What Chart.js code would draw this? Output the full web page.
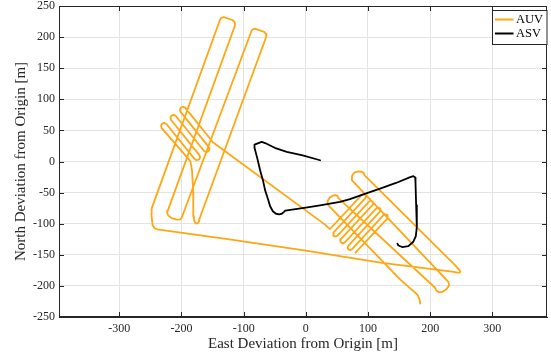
<!DOCTYPE html>
<html><head><meta charset="utf-8">
<script src="https://cdn.jsdelivr.net/npm/chart.js@4/dist/chart.umd.min.js"></script>
<style>html,body{margin:0;padding:0;background:#fff;overflow:hidden}</style>
</head><body>
<canvas id="c" width="551" height="359" style="display:block;width:551px;height:359px"></canvas>
<script>
const seriesNames = ['AUV', 'ASV'];
const auvEast = [184,183,180,175,168,152,36,35,38.5,44,48.5,51.5,52.5,208,209.7,214,220,226,230.5,229.4,74,74.5,78,84.6,90,93.5,94.3,240,245.5,248.5,247.5,244,238,120,0,-120,-239,-243.5,-246.5,-248.5,-248,-138,-136,-132,-118,-114.5,-113.8,-222,-223,-221,-216,-208,-202,-199.5,-87.5,-86,-82,-67,-64,-63.5,-171,-171.5,-174,-177.5,-179.5,-180,-181,-183,-184.5,-186,-231.8,-233,-231.2,-227.6,-224.2,-178.8,-175.4,-171.8,-170,-171.2,-216.6,-217.8,-216,-212.4,-209,-163.6,-160.2,-156.6,-154.8,-156,-201.4,-202.6,-200.8,-197.2,-193.8,-149,31,35,39,90,92.75,95.6,96.9,95.8,44.8,43.77,45.04,47.91,50.7,101.7,104.45,107.3,108.6,107.5,56.5,55.45,56.72,59.59,62.4,113.4,116.15,119,120.3,119.2,68.2,67.13,68.4,71.27,74,125,127.8,130.7,131.95,130.9,79.9];
const auvNorth = [-228.5,-221.5,-215,-210,-204,-190,-70,-64,-58,-54.5,-54,-56,-59,-203,-207,-210.3,-209.5,-205.5,-199.5,-193.7,-30,-22.5,-18,-15.8,-16.5,-19,-22,-166.5,-172.5,-176.5,-178.8,-178.6,-177.6,-162.5,-143.4,-125.5,-109,-107,-102,-84,-75.7,228,231,232,227.5,224,219,-79,-83,-87,-91,-93.5,-93,-90,209.5,212,213.5,208.5,205,201,-92,-96,-99.5,-99.5,-95,-88,-50,-15,-5,1,53.8,57.4,60.8,62,60.2,3.8,2.0,3.2,6.6,10.2,66.8,70.4,73.8,75,73.2,16.8,15,16.2,19.6,23.2,79.8,83.4,86.8,88,86.2,30.5,-101.5,-105.5,-108.5,-53.5,-52.2,-53.3,-56.05,-58.9,-113.9,-116.81,-119.58,-120.65,-119.4,-64.4,-63.1,-64.2,-66.95,-69.8,-124.8,-127.69,-130.46,-131.53,-130.3,-75.3,-74,-75.1,-77.85,-80.7,-135.7,-138.57,-141.34,-142.41,-141.1,-86.1,-84.85,-85.9,-88.7,-91.6,-146.6];
const asvEast = [23,-5,-30.6,-50,-65.5,-70.8,-76.3,-82.5,-82.5,-78,-73.5,-69,-65.5,-61,-57.4,-53,-48,-43,-38.6,-35,-33,0,23,55,71,95,119.5,145,168,173,176,176.5,177.5,178.6,177,173,165,155,149,147.4];
const asvNorth = [2,10,15.5,22,29.7,31.4,29.5,27,22,5,-14,-30,-46,-60,-72,-80,-84,-85,-84,-81,-79,-74,-70.4,-65,-60.5,-52,-43.6,-34.5,-25,-23.5,-26,-35,-70,-105,-120,-129,-136,-137.5,-135,-132];
const xTicks = [-300,-200,-100,0,100,200,300];
const yTicks = [-250,-200,-150,-100,-50,0,50,100,150,200,250];
const xLimits = [-397, 388];
const yLimits = [-250, 250];
const xTitle = 'East Deviation from Origin [m]';
const yTitle = 'North Deviation from Origin [m]';

const AX = '#262626';
const SERIF = "'Liberation Serif', 'Times New Roman', serif";
const toPts = (xs, ys) => xs.map((x, i) => ({x: x, y: ys[i]}));

const boxPlugin = {
  id: 'box',
  afterDraw(chart) {
    const {ctx, chartArea: a, scales} = chart;
    ctx.save();
    ctx.strokeStyle = AX; ctx.lineWidth = 1;
    ctx.strokeRect(Math.round(a.left) + 0.5, Math.round(a.top) + 0.5, Math.round(a.right - a.left) - 1, Math.round(a.bottom - a.top) - 1);
    const L = 5;
    ctx.beginPath();
    scales.x.ticks.forEach(t => {
      const px = Math.round(scales.x.getPixelForValue(t.value)) + 0.5;
      ctx.moveTo(px, a.bottom); ctx.lineTo(px, a.bottom - L);
      ctx.moveTo(px, a.top); ctx.lineTo(px, a.top + L);
    });
    scales.y.ticks.forEach(t => {
      const py = Math.round(scales.y.getPixelForValue(t.value)) + 0.5;
      ctx.moveTo(a.left, py); ctx.lineTo(a.left + L, py);
      ctx.moveTo(a.right, py); ctx.lineTo(a.right - L, py);
    });
    ctx.stroke();
    // legend
    const lx = 492.5, ly = 10.5, lw = 54.5, lh = 34;
    ctx.fillStyle = '#fff';
    ctx.fillRect(lx, ly, lw, lh);
    ctx.strokeStyle = AX;
    ctx.strokeRect(lx, ly, lw, lh);
    const order = [1, 0];
    const rows = [19.5, 33.5];
    order.forEach((di, r) => {
      const ds = chart.data.datasets[di];
      ctx.strokeStyle = ds.borderColor; ctx.lineWidth = 2;
      ctx.beginPath(); ctx.moveTo(495, rows[r]); ctx.lineTo(513.5, rows[r]); ctx.stroke();
      ctx.fillStyle = '#000';
      ctx.font = "12.5px " + SERIF;
      ctx.textBaseline = 'middle'; ctx.textAlign = 'left';
      ctx.fillText(ds.label, 516, rows[r] + 0.5);
    });
    ctx.restore();
  }
};

new Chart(document.getElementById('c'), {
  type: 'scatter',
  data: {
    datasets: [
      {label: seriesNames[1], data: toPts(asvEast, asvNorth), showLine: true, borderColor: '#000000', backgroundColor: '#000000', borderWidth: 1.8, pointRadius: 0, pointHoverRadius: 0, tension: 0, borderJoinStyle: 'round', borderCapStyle: 'round', order: 0},
      {label: seriesNames[0], data: toPts(auvEast, auvNorth), showLine: true, borderColor: '#FFA611', backgroundColor: '#FFA611', borderWidth: 1.8, pointRadius: 0, pointHoverRadius: 0, tension: 0, borderJoinStyle: 'round', borderCapStyle: 'round', order: 1}
    ]
  },
  options: {
    responsive: false, animation: false, devicePixelRatio: 1,
    layout: {padding: {top: 6, right: 4, left: 0, bottom: 0}},
    plugins: {legend: {display: false}, tooltip: {enabled: false}},
    scales: {
      x: {
        type: 'linear', min: xLimits[0], max: xLimits[1],
        afterBuildTicks: s => { s.ticks = xTicks.map(v => ({value: v})); },
        afterFit: s => { s.height = 42; s.paddingLeft = 0; s.paddingRight = 0; },
        ticks: {autoSkip: false, maxRotation: 0, padding: 5, color: AX, font: {family: SERIF, size: 12}, callback: v => String(v)},
        grid: {color: '#e3e3e3', lineWidth: 1, drawTicks: false},
        border: {display: true, color: AX, width: 1},
        title: {display: true, text: xTitle, color: AX, font: {family: SERIF, size: 15}, padding: {top: 0, bottom: 6}}
      },
      y: {
        type: 'linear', min: yLimits[0], max: yLimits[1],
        afterBuildTicks: s => { s.ticks = yTicks.map(v => ({value: v})); },
        afterFit: s => { s.width = 59; s.paddingTop = 0; s.paddingBottom = 0; },
        ticks: {autoSkip: false, padding: 4, color: AX, font: {family: SERIF, size: 12}, callback: v => String(v)},
        grid: {color: '#e3e3e3', lineWidth: 1, drawTicks: false},
        border: {display: true, color: AX, width: 1},
        title: {display: true, text: yTitle, color: AX, font: {family: SERIF, size: 15}, padding: {top: 12.5, bottom: 0}}
      }
    }
  },
  plugins: [boxPlugin]
});
</script>
</body></html>
